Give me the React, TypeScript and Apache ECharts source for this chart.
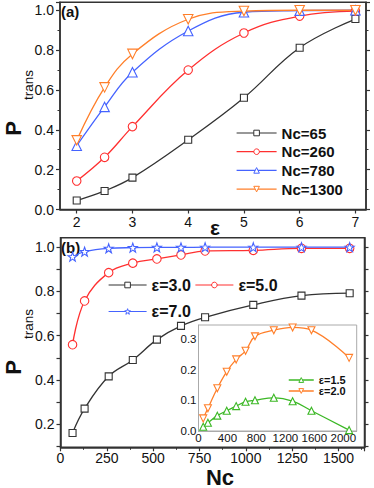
import React, { useEffect, useRef } from "react";
import * as echarts from "echarts";

// Panel (a): P_trans vs epsilon
const epsA = [2, 2.5, 3, 4, 5, 6, 7];
const nc65 = [0.045, 0.093, 0.16, 0.35, 0.561, 0.812, 0.956];
const nc260 = [0.143, 0.262, 0.416, 0.7, 0.886, 0.971, 0.996];
const nc780 = [0.32, 0.515, 0.689, 0.896, 0.99, 0.998, 1.0];
const nc1300 = [0.347, 0.613, 0.781, 0.955, 0.996, 1.0, 1.0];
const xTicksA = [2, 3, 4, 5, 6, 7];

// Panel (b): P_trans vs Nc
const ncB = [65, 130, 260, 390, 520, 650, 780, 1040, 1300, 1560];
const eps3 = [0.16, 0.27, 0.416, 0.49, 0.582, 0.644, 0.683, 0.739, 0.781, 0.792];
const eps5 = [0.559, 0.757, 0.885, 0.928, 0.947, 0.965, 0.983, 0.986, 0.995, 0.995];
const eps7 = [0.957, 0.98, 0.995, 0.998, 0.999, 0.999, 1.0, 1.0, 1.0, 1.0];
const yLabelsB = [0.2, 0.4, 0.6, 0.8, 1.0];
const yTicksB = [0.1, 0.2, 0.3, 0.4, 0.5, 0.6, 0.7, 0.8, 0.9, 1.0];

// Inset
const ncI = [65, 130, 260, 390, 520, 650, 780, 1040, 1300, 1560, 2080];
const eps15 = [0.014, 0.027, 0.05, 0.066, 0.081, 0.095, 0.1, 0.108, 0.097, 0.066, 0.003];
const eps20 = [0.041, 0.074, 0.139, 0.193, 0.233, 0.261, 0.308, 0.328, 0.337, 0.328, 0.238];

const STAR =
  "path://M0,-10 L2.35,-3.24 L9.51,-3.09 L3.8,1.24 L5.88,8.09 L0,4 L-5.88,8.09 L-3.8,1.24 L-9.51,-3.09 L-2.35,-3.24 Z";

const FONT = "Liberation Sans";
const AX = "#333";

const BLACK = "#333";
const RED = "#ff3030";
const BLUE = "#4563ff";
const ORANGE = "#ff7f2a";
const GREEN = "#3cb826";

const zip = (xs: number[], ys: number[]) => xs.map((x, i) => [x, ys[i]]);

function mkSeries(
  name: string,
  xs: number[],
  ys: number[],
  color: string,
  symbol: string,
  size: number,
  gi: number,
  rotate = 0,
  lw = 1.3
) {
  return {
    type: "line",
    name,
    xAxisIndex: gi,
    yAxisIndex: gi * 2,
    data: zip(xs, ys),
    smooth: 0.4,
    symbol,
    symbolSize: size,
    symbolRotate: rotate,
    showSymbol: true,
    lineStyle: { color, width: lw },
    itemStyle: { color: "#fff", borderColor: color, borderWidth: 1.1 },
    emphasis: { disabled: true },
    z: 3,
  };
}

const legItem = (name: string, color: string, lw = 1.2) => ({
  name,
  itemStyle: { color: "#fff", borderColor: color, borderWidth: 1 },
  lineStyle: { color, width: lw },
});

export default function App() {
  const ref = useRef<HTMLDivElement>(null);
  useEffect(() => {
    const chart = echarts.init(ref.current!, null, { renderer: "svg" });
    const axisLine = { show: true, lineStyle: { color: AX, width: 1.5 } };
    const tick = { show: true, length: 4, inside: false, lineStyle: { color: AX, width: 1.2 } };
    const minor = { show: true, splitNumber: 2, length: 2.5, lineStyle: { color: AX, width: 1 } };
    const lbl = { color: "#111", fontSize: 14, fontFamily: FONT };
    const gray = "#aaa";
    const plain = (v: number) => String(Math.round(v));

    const option: any = {
      animation: false,
      textStyle: { fontFamily: FONT },
      grid: [
        { left: 60, top: 2.3, width: 306, height: 207.2, show: true, borderColor: AX, borderWidth: 1.5, backgroundColor: "transparent" },
        { left: 60.5, top: 237.7, width: 304, height: 209.6, show: true, borderColor: AX, borderWidth: 1.5, backgroundColor: "transparent" },
        { left: 198.5, top: 325, width: 158.2, height: 106, show: true, borderColor: gray, borderWidth: 1, backgroundColor: "#fff", z: 5 },
      ],
      xAxis: [
        {
          type: "value", gridIndex: 0, min: 1.7, max: 7.19,
          axisLine, axisTick: { ...tick, customValues: xTicksA },
          axisLabel: { ...lbl, margin: 5, customValues: xTicksA, formatter: plain },
          splitLine: { show: false },
        },
        {
          type: "value", gridIndex: 1, min: 0, max: 1640, interval: 250,
          axisLine, axisTick: tick, minorTick: minor,
          axisLabel: { ...lbl, margin: 4, showMaxLabel: false, formatter: plain },
          splitLine: { show: false }, minorSplitLine: { show: false },
        },
        {
          type: "value", gridIndex: 2, min: 0, max: 2185, interval: 400, z: 6,
          axisLine: { show: true, lineStyle: { color: gray, width: 1 } },
          axisTick: { show: false },
          axisLabel: { ...lbl, fontSize: 11.5, margin: 1, showMaxLabel: false, formatter: plain },
          splitLine: { show: false },
        },
      ],
      yAxis: [
        {
          type: "value", gridIndex: 0, min: 0, max: 1.04, interval: 0.2,
          axisLine, axisTick: tick, minorTick: minor,
          axisLabel: { ...lbl, margin: 6, showMaxLabel: false, formatter: (v: number) => v.toFixed(1) },
          splitLine: { show: false }, minorSplitLine: { show: false },
        },
        {
          type: "value", gridIndex: 0, position: "right", min: 0, max: 1.04, interval: 0.2,
          axisLine, axisTick: tick, minorTick: minor, axisLabel: { show: false },
          splitLine: { show: false }, minorSplitLine: { show: false },
        },
        {
          type: "value", gridIndex: 1, min: 0.095, max: 1.043,
          axisLine, axisTick: { ...tick, customValues: yTicksB },
          axisLabel: { ...lbl, margin: 6, customValues: yLabelsB, formatter: (v: number) => v.toFixed(1) },
          splitLine: { show: false },
        },
        {
          type: "value", gridIndex: 1, position: "right", min: 0.095, max: 1.043,
          axisLine, axisTick: { ...tick, customValues: yTicksB },
          axisLabel: { show: false, customValues: yLabelsB },
          splitLine: { show: false },
        },
        {
          type: "value", gridIndex: 2, min: 0, max: 0.345, interval: 0.1, z: 6,
          axisLine: { show: true, lineStyle: { color: gray, width: 1 } },
          axisTick: { show: false },
          axisLabel: { ...lbl, fontSize: 11.5, margin: 2, padding: [10, 0, 0, 0], showMaxLabel: false, formatter: (v: number) => v.toFixed(1) },
          splitLine: { show: false },
        },
      ],
      legend: [
        {
          data: [legItem("Nc=65", BLACK), legItem("Nc=260", RED), legItem("Nc=780", BLUE), legItem("Nc=1300", ORANGE)],
          orient: "vertical", left: 236, top: 125.5, padding: 0,
          itemWidth: 40, itemHeight: 7, itemGap: 3.7,
          lineStyle: { width: 1.2 },
          textStyle: { fontSize: 15, fontWeight: "bold", color: "#111", fontFamily: FONT },
        },
        {
          data: [legItem("ε=3.0", BLACK), legItem("ε=5.0", RED)],
          orient: "horizontal", left: 108, top: 277, padding: 0,
          itemWidth: 38, itemHeight: 7, itemGap: 4,
          lineStyle: { width: 1.2 },
          textStyle: { fontSize: 16, fontWeight: "bold", color: "#111", fontFamily: FONT },
        },
        {
          data: [legItem("ε=7.0", BLUE)],
          orient: "horizontal", left: 108, top: 303.5, padding: 0,
          itemWidth: 38, itemHeight: 7, itemGap: 4,
          lineStyle: { width: 1.2 },
          textStyle: { fontSize: 16, fontWeight: "bold", color: "#111", fontFamily: FONT },
        },
        {
          data: [legItem("ε=1.5", GREEN, 1.5), legItem("ε=2.0", ORANGE, 1.5)],
          orient: "vertical", left: 288, top: 374.5, padding: 0, z: 8,
          itemWidth: 25, itemHeight: 6, itemGap: 0,
          lineStyle: { width: 1.5 },
          textStyle: { fontSize: 11, fontWeight: "bold", color: "#111", fontFamily: FONT },
        },
      ],
      series: [
        mkSeries("Nc=65", epsA, nc65, BLACK, "rect", 7, 0),
        mkSeries("Nc=260", epsA, nc260, RED, "circle", 8.5, 0),
        mkSeries("Nc=780", epsA, nc780, BLUE, "triangle", 9.5, 0),
        mkSeries("Nc=1300", epsA, nc1300, ORANGE, "triangle", 9.5, 0, 180),
        mkSeries("ε=3.0", ncB, eps3, BLACK, "rect", 7, 1),
        mkSeries("ε=5.0", ncB, eps5, RED, "circle", 8.5, 1),
        mkSeries("ε=7.0", ncB, eps7, BLUE, STAR, 9, 1),
        { ...mkSeries("ε=1.5", ncI, eps15, GREEN, "triangle", 7, 2, 0, 1.3), z: 7 },
        { ...mkSeries("ε=2.0", ncI, eps20, ORANGE, "triangle", 7, 2, 180, 1.3), z: 7 },
      ],
      graphic: [
        { type: "text", left: 61, top: 4, style: { text: "(a)", fontSize: 15, fontWeight: "bold", fill: "#111", fontFamily: FONT } },
        { type: "text", left: 61, top: 239.5, style: { text: "(b)", fontSize: 15, fontWeight: "bold", fill: "#111", fontFamily: FONT } },
        { type: "text", x: 215, y: 227, style: { text: "ε", fontSize: 21, fontWeight: "bold", fill: "#111", fontFamily: FONT, align: "center", verticalAlign: "middle" } },
        { type: "text", x: 220, y: 477, style: { text: "Nc", fontSize: 22, fontWeight: "bold", fill: "#111", fontFamily: FONT, align: "center", verticalAlign: "middle" } },
        { type: "text", x: 13, y: 128.5, rotation: Math.PI / 2, style: { text: "P", fontSize: 22, fontWeight: "bold", fill: "#111", fontFamily: FONT, align: "center", verticalAlign: "middle" } },
        { type: "text", x: 28.5, y: 85, rotation: Math.PI / 2, style: { text: "trans", fontSize: 13.5, fill: "#111", fontFamily: FONT, align: "center", verticalAlign: "middle" } },
        { type: "text", x: 13, y: 367.5, rotation: Math.PI / 2, style: { text: "P", fontSize: 22, fontWeight: "bold", fill: "#111", fontFamily: FONT, align: "center", verticalAlign: "middle" } },
        { type: "text", x: 28.5, y: 324, rotation: Math.PI / 2, style: { text: "trans", fontSize: 13.5, fill: "#111", fontFamily: FONT, align: "center", verticalAlign: "middle" } },
      ],
    };
    chart.setOption(option);
    return () => chart.dispose();
  }, []);
  return (
    <div
      ref={ref}
      style={{ position: "fixed", left: 0, top: 0, width: 374, height: 488, background: "#fff" }}
    />
  );
}
